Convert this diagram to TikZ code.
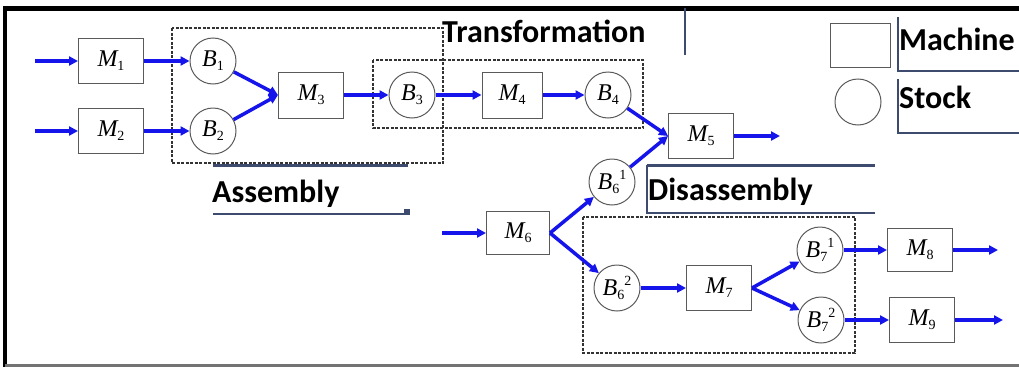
\documentclass[tikz,border=0pt]{standalone}
\usepackage{fontspec}
\usetikzlibrary{arrows.meta}
\newfontfamily\lblfont{Carlito}
\newfontfamily\tmsfont{Liberation Serif}
\definecolor{flow}{RGB}{20,20,235}
\definecolor{tbline}{RGB}{60,75,110}
\definecolor{shapeline}{RGB}{90,90,90}
\newcommand{\nodelab}[3]{{\tmsfont\itshape #1}{\tmsfont\fontsize{14}{14}\selectfont\raisebox{-4pt}{#2}\raisebox{10pt}{#3}}}
\tikzset{
  machine/.style={draw=shapeline, line width=1pt, rectangle, minimum width=65pt, minimum height=45pt, inner sep=0pt, font=\fontsize{24}{28}\selectfont},
  stock/.style={draw=shapeline, line width=1pt, circle, minimum size=46pt, inner sep=0pt, font=\fontsize{24}{28}\selectfont},
  flowarrow/.style={draw=flow, line width=3.5pt, -{Triangle[length=9pt,width=9pt]}},
  group/.style={draw=black!80, line width=1.2pt, dash pattern=on 3pt off 1.5pt},
  lbl/.style={font=\lblfont\bfseries\fontsize{32}{38}\selectfont, inner sep=0pt, anchor=base west},
  tbthick/.style={draw=tbline, line width=3pt},
  tbthin/.style={draw=tbline, line width=1.2pt},
}
\begin{document}
\begin{tikzpicture}[x=1pt,y=-1pt]
\useasboundingbox (0,0) rectangle (1019,367);
% frame
\draw[black, line width=5pt] (3,8) -- (1019,8);
\draw[black, line width=4pt] (5,8) -- (5,367);
\draw[black!55, line width=3pt] (5,365) -- (1019,365);

% text box remnants
\draw[tbthick] (213,165) -- (408,165);
\draw[tbthin] (213,214) -- (408,214);
\fill[tbline] (404,209) rectangle (410,215);
\draw[tbthin] (685,8) -- (685,55);
\draw[tbthick] (647,165) -- (875,165);
\draw[tbthin] (647,165) -- (647,213) -- (875,213);
\draw[tbthin] (898,17) -- (898,71) -- (1019,71);
\draw[tbthin] (898,79) -- (898,133) -- (1019,133);

% groups
\draw[group] (172,28) rectangle (443,163);
\draw[group] (373,60) rectangle (643,128);
\draw[group] (583,217) rectangle (855,353);

% labels
\node[lbl] (tTrans) at (442,42) {Transformation};
\node[lbl] (tMach) at (899,50) {Machine};
\node[lbl] (tStock) at (899,108) {Stock};
\node[lbl] (tAsm) at (212,202) {Assembly};
\node[lbl] (tDis) at (648,200) {Disassembly};

% legend
\node[machine, minimum width=60pt, minimum height=44pt] (legM) at (860,45) {};
\node[stock] (legS) at (858,102) {};

% machines and stocks
\node[machine] (M1) at (111,61) {\nodelab{M}{1}{}};
\node[machine] (M2) at (111,131) {\nodelab{M}{2}{}};
\node[stock] (B1) at (213,61) {\nodelab{B}{1}{}};
\node[stock] (B2) at (213,131) {\nodelab{B}{2}{}};
\node[machine, minimum height=46pt] (M3) at (311,95) {\nodelab{M}{3}{}};
\node[stock] (B3) at (412,95) {\nodelab{B}{3}{}};
\node[machine, minimum width=60pt, minimum height=46pt] (M4) at (512,95) {\nodelab{M}{4}{}};
\node[stock] (B4) at (608,95) {\nodelab{B}{4}{}};
\node[machine] (M5) at (701,136) {\nodelab{M}{5}{}};
\node[stock] (B61) at (612,182) {\nodelab{B}{6}{1}};
\node[machine, minimum width=63pt, minimum height=43pt] (M6) at (518,233) {\nodelab{M}{6}{}};
\node[stock] (B62) at (617,288) {\nodelab{B}{6}{2}};
\node[machine] (M7) at (719,288) {\nodelab{M}{7}{}};
\node[stock] (B71) at (820,250) {\nodelab{B}{7}{1}};
\node[stock] (B72) at (821,320) {\nodelab{B}{7}{2}};
\node[machine, minimum height=43pt] (M8) at (920,250) {\nodelab{M}{8}{}};
\node[machine] (M9) at (922,320) {\nodelab{M}{9}{}};

% free ends
\coordinate (in1) at (35,61);
\coordinate (in2) at (35,131);
\coordinate (in6) at (442,233);
\coordinate (out5) at (780,136);
\coordinate (out8) at (998,250);
\coordinate (out9) at (1003,320);

% connectors
\draw[flowarrow] (in1) -- (M1);
\draw[flowarrow] (in2) -- (M2);
\draw[flowarrow] (M1) -- (B1);
\draw[flowarrow] (M2) -- (B2);
\draw[flowarrow] (B1) -- (M3.west);
\draw[flowarrow] (B2) -- (M3.west);
\draw[flowarrow] (M3) -- (B3);
\draw[flowarrow] (B3) -- (M4);
\draw[flowarrow] (M4) -- (B4);
\draw[flowarrow] (B4) -- (M5.west);
\draw[flowarrow] (B61) -- (M5.west);
\draw[flowarrow] (M5) -- (out5);
\draw[flowarrow] (in6) -- (M6);
\draw[flowarrow] (M6.east) -- (B61);
\draw[flowarrow] (M6.east) -- (B62);
\draw[flowarrow] (B62) -- (M7);
\draw[flowarrow] (M7.east) -- (B71);
\draw[flowarrow] (M7.east) -- (B72);
\draw[flowarrow] (B71) -- (M8);
\draw[flowarrow] (B72) -- (M9);
\draw[flowarrow] (M8) -- (out8);
\draw[flowarrow] (M9) -- (out9);
\end{tikzpicture}
\end{document}
